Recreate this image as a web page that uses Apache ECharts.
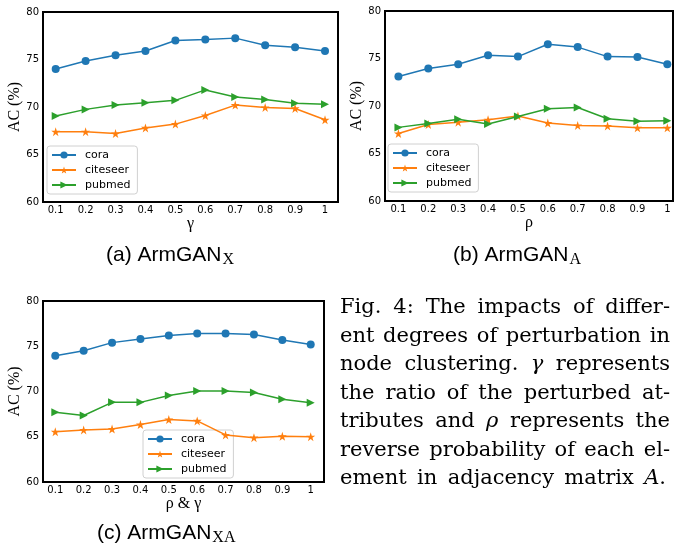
<!DOCTYPE html>
<html><head><meta charset="utf-8">
<script src="https://cdn.jsdelivr.net/npm/echarts@6/dist/echarts.min.js"></script>
<style>html,body{margin:0;padding:0;background:#fff}#c{width:674px;height:546px}</style>
</head><body><div id="c"></div>
<script>
// ---------- data ----------
const xTicks = [0.1, 0.2, 0.3, 0.4, 0.5, 0.6, 0.7, 0.8, 0.9, 1];
const seriesNames = ['cora', 'citeseer', 'pubmed'];
// (a) ArmGAN_X, varying gamma
const coraX     = [74.0, 74.85, 75.45, 75.9, 77.0, 77.1, 77.25, 76.5, 76.3, 75.9];
const citeseerX = [67.4, 67.4, 67.2, 67.8, 68.2, 69.1, 70.2, 69.95, 69.85, 68.65];
const pubmedX   = [69.05, 69.75, 70.2, 70.45, 70.7, 71.8, 71.05, 70.8, 70.4, 70.3];
// (b) ArmGAN_A, varying rho
const coraA     = [73.1, 73.95, 74.4, 75.35, 75.2, 76.5, 76.2, 75.2, 75.15, 74.4];
const citeseerA = [67.1, 68.05, 68.3, 68.55, 68.95, 68.2, 67.95, 67.9, 67.7, 67.7];
const pubmedA   = [67.75, 68.15, 68.6, 68.1, 68.9, 69.7, 69.85, 68.65, 68.4, 68.45];
// (c) ArmGAN_XA, varying rho & gamma
const coraXA     = [73.95, 74.5, 75.4, 75.8, 76.2, 76.4, 76.4, 76.3, 75.7, 75.2];
const citeseerXA = [65.55, 65.75, 65.85, 66.35, 66.9, 66.75, 65.2, 64.9, 65.05, 65.0];
const pubmedXA   = [67.7, 67.35, 68.8, 68.8, 69.55, 70.05, 70.05, 69.9, 69.15, 68.75];

const xAxisNames = ['γ', 'ρ', 'ρ & γ'];
const yAxisName = 'AC (%)';
const subCaptionMain = ['(a) ArmGAN', '(b) ArmGAN', '(c) ArmGAN'];
const subCaptionSub = ['X', 'A', 'XA'];
const figCaptionLines = [
  'Fig. 4: The impacts of differ-',
  'ent degrees of perturbation in',
  'node clustering. γ represents',
  'the ratio of the perturbed at-',
  'tributes and ρ represents the',
  'reverse probability of each el-',
  'ement in adjacency matrix A.'
];

// ---------- layout / style ----------
const colors = ['#1f77b4', '#ff7f0e', '#2ca02c'];
const STAR = 'path://M50,0 L61.17,34.63 L97.55,34.55 L68.07,55.87 L79.39,90.45 L50,69 L20.61,90.45 L31.93,55.87 L2.45,34.55 L38.83,34.63 Z';
const TRI = 'path://M0,0 L10,5 L0,10 Z';
const symbols = ['circle', STAR, TRI];
const symbolSizes = [8, 9, 8];

const grids = [
  {left: 43, top: 12, width: 295, height: 190},
  {left: 385, top: 11, width: 288, height: 190},
  {left: 43, top: 301, width: 281, height: 181}
];
const xRanges = [[0.0576, 1.0434], [0.0551, 1.019], [0.0567, 1.0468]];
const xNameGaps = [14, 10, 13];
const legendPos = [{left: 47, top: 146}, {left: 388, top: 144}, {left: 143, top: 430}];
const dataSets = [[coraX, citeseerX, pubmedX], [coraA, citeseerA, pubmedA], [coraXA, citeseerXA, pubmedXA]];

const option = {
  animation: false,
  backgroundColor: '#fff',
  grid: grids.map(g => Object.assign({show: true, borderColor: '#000', borderWidth: 2, backgroundColor: 'transparent', containLabel: false}, g)),
  xAxis: grids.map((g, i) => ({
    type: 'value', gridIndex: i, min: xRanges[i][0], max: xRanges[i][1],
    name: xAxisNames[i], nameLocation: 'middle', nameGap: xNameGaps[i],
    nameTextStyle: {fontFamily: 'Liberation Serif', fontSize: 16, color: '#000'},
    axisLine: {show: false}, axisTick: {show: false}, splitLine: {show: false},
    axisLabel: {customValues: xTicks, margin: 3, color: '#000', fontFamily: 'DejaVu Sans', fontSize: 10,
      formatter: v => (Math.abs(v - 1) < 1e-9 ? '1' : v.toFixed(1))}
  })),
  yAxis: grids.map((g, i) => ({
    type: 'value', gridIndex: i, min: 60, max: 80, interval: 5,
    name: yAxisName, nameLocation: 'middle', nameGap: 18, nameRotate: 90,
    nameTextStyle: {fontFamily: 'Liberation Serif', fontSize: 16, color: '#000'},
    axisLine: {show: false}, axisTick: {show: false}, splitLine: {show: false},
    axisLabel: {margin: 4, color: '#000', fontFamily: 'DejaVu Sans', fontSize: 10}
  })),
  legend: legendPos.map(p => ({
    data: seriesNames, orient: 'vertical', left: p.left, top: p.top,
    itemWidth: 24, itemHeight: 9, itemGap: 3, padding: [3, 7, 3, 4],
    borderColor: '#d0d0d0', borderWidth: 1, borderRadius: 3, backgroundColor: '#fff',
    textStyle: {fontFamily: 'DejaVu Sans', fontSize: 11, color: '#000', lineHeight: 12, padding: [0, 0, 0, 4]},
    selectedMode: false
  })),
  series: []
};
dataSets.forEach((set, gi) => {
  set.forEach((vals, si) => {
    option.series.push({
      type: 'line', name: seriesNames[si], xAxisIndex: gi, yAxisIndex: gi,
      data: xTicks.map((x, k) => [x, vals[k]]),
      symbol: symbols[si], symbolSize: symbolSizes[si], showSymbol: true,
      lineStyle: {width: 1.5, color: colors[si]},
      itemStyle: {color: colors[si]},
      clip: false, z: 3 + si
    });
  });
});

// ---------- texts (captions) ----------
const ctx = document.createElement('canvas').getContext('2d');
function tw(text, font) { ctx.font = font; return ctx.measureText(text).width; }
const MID = 0.31;
function fontStr(size, family, italic) { return (italic ? 'italic ' : '') + size + 'px "' + family + '"'; }
function txt(text, x, baseline, size, family, italic) {
  const font = fontStr(size, family, italic);
  return {type: 'text', x: x, y: baseline - MID * size, silent: true,
    style: {text: text, font: font, fill: '#000', textAlign: 'left', textVerticalAlign: 'middle', align: 'left', verticalAlign: 'middle'}};
}
const graphics = [];
const capPos = [{x: 106, b: 262}, {x: 453, b: 262}, {x: 97, b: 540}];
capPos.forEach((p, i) => {
  graphics.push(txt(subCaptionMain[i], p.x, p.b, 21, 'Liberation Sans', false));
  const w = tw(subCaptionMain[i], fontStr(21, 'Liberation Sans', false));
  graphics.push(txt(subCaptionSub[i], p.x + w + 1, p.b + 3, 16, 'Liberation Serif', false));
});
// justified figure caption
const PF = 'DejaVu Serif', PS = 21, PL = 340, PR = 670;
figCaptionLines.forEach((line, li) => {
  const words = line.split(' ');
  const segsPerWord = words.map(w => {
    const segs = [];
    for (const ch of w) {
      const it = (ch === 'γ' || ch === 'ρ' || (w === 'A.' && ch === 'A'));
      if (segs.length && segs[segs.length - 1].it === it) segs[segs.length - 1].t += ch;
      else segs.push({t: ch, it: it});
    }
    segs.forEach(s => s.w = tw(s.t, fontStr(PS, PF, s.it)));
    return segs;
  });
  const widths = segsPerWord.map(segs => segs.reduce((a, s) => a + s.w, 0));
  const total = widths.reduce((a, b) => a + b, 0);
  const right = li === figCaptionLines.length - 1 ? 666 : PR;
  const gap = (right - PL - total) / (words.length - 1);
  const base = 314.5 + li * 28.45;
  let x = PL;
  segsPerWord.forEach((segs, wi) => {
    let sx = x;
    segs.forEach(s => { graphics.push(txt(s.t, sx, base, PS, PF, s.it)); sx += s.w; });
    x += widths[wi] + gap;
  });
});
option.graphic = {elements: graphics};

const chart = echarts.init(document.getElementById('c'), null, {renderer: 'canvas'});
chart.setOption(option);
</script>
</body></html>
